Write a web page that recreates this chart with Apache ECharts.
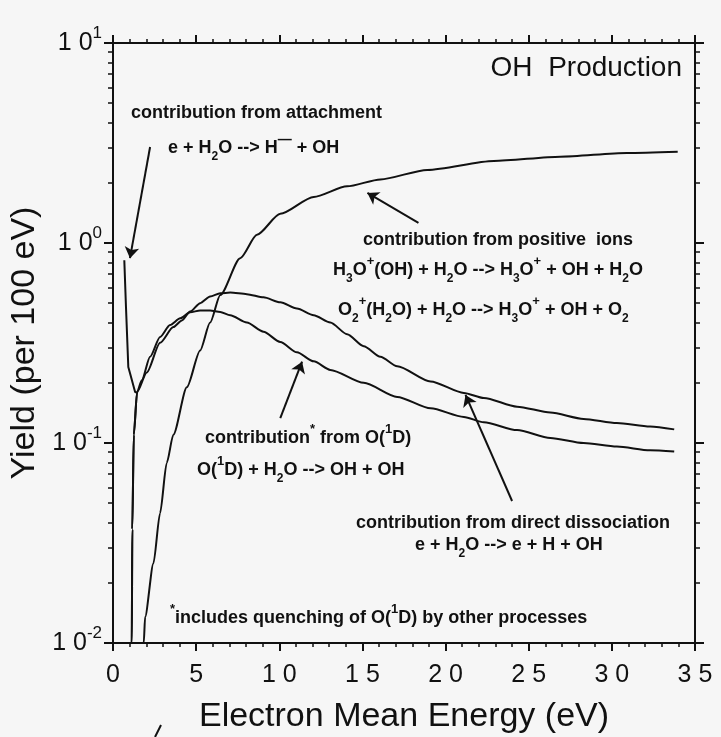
<!DOCTYPE html>
<html>
<head>
<meta charset="utf-8">
<script src="https://cdn.jsdelivr.net/npm/echarts@6/dist/echarts.min.js"></script>
<style>
html,body{margin:0;padding:0;background:#f6f6f6;}
#c{width:721px;height:737px;}
</style>
</head>
<body>
<div id="c"></div>
<script>
// ---------- data ----------
const attachE = [0.68, 0.78, 0.92, 1.02, 1.33, 1.50];
const attachY = [0.82, 0.48, 0.24, 0.224, 0.18, 0.178];

const directE = [1.10, 1.13, 1.16, 1.25, 1.45, 2.03, 2.83, 3.63, 4.14, 4.64, 5.24, 5.84, 6.45, 7.05, 8.05, 9.05, 10.06, 11.06, 12.07, 13.07, 14.08, 15.08, 16.08, 17.09, 19.1, 21.1, 22.3, 24.3, 26.3, 28.3, 30.3, 32.3, 33.75];
const directY = [0.006, 0.01, 0.037, 0.11, 0.18, 0.225, 0.317, 0.38, 0.41, 0.454, 0.50, 0.54, 0.56, 0.565, 0.555, 0.535, 0.505, 0.47, 0.435, 0.40, 0.35, 0.305, 0.27, 0.242, 0.203, 0.178, 0.168, 0.152, 0.142, 0.132, 0.126, 0.121, 0.117];

const o1dE = [1.10, 1.13, 1.16, 1.25, 1.45, 1.73, 2.23, 2.83, 3.43, 4.04, 4.64, 5.24, 5.84, 6.45, 7.05, 8.05, 9.05, 10.06, 11.06, 12.07, 13.07, 15.08, 17.09, 19.1, 21.1, 22.3, 24.3, 26.3, 28.3, 30.3, 32.3, 33.75];
const o1dY = [0.006, 0.01, 0.037, 0.11, 0.18, 0.206, 0.27, 0.339, 0.389, 0.42, 0.45, 0.46, 0.46, 0.452, 0.435, 0.40, 0.36, 0.32, 0.284, 0.256, 0.232, 0.20, 0.17, 0.149, 0.135, 0.127, 0.116, 0.106, 0.100, 0.096, 0.092, 0.0906];

const ionsE = [1.80, 1.85, 1.93, 2.43, 2.83, 3.23, 3.63, 4.44, 5.24, 5.84, 6.45, 7.65, 8.66, 10.06, 12.07, 14.08, 16.08, 18.9, 22.9, 26.9, 30.9, 33.96];
const ionsY = [0.006, 0.01, 0.0135, 0.025, 0.0446, 0.0795, 0.11, 0.19, 0.29, 0.40, 0.55, 0.84, 1.10, 1.40, 1.70, 1.92, 2.08, 2.32, 2.57, 2.70, 2.82, 2.86];

// arrows: tail -> tip (data coordinates)
const arrowTails = [[2.23, 3.02], [18.37, 1.26], [10.06, 0.133], [24.0, 0.0513]];
const arrowTips  = [[1.02, 0.84], [15.3, 1.78], [11.37, 0.255], [21.2, 0.174]];

const xTicks = [0, 5, 10, 15, 20, 25, 30, 35];
const yMinorTicks = [0.02,0.03,0.04,0.05,0.06,0.07,0.08,0.09,0.2,0.3,0.4,0.5,0.6,0.7,0.8,0.9,2,3,4,5,6,7,8,9];

const annotations = [
  {t: 'contribution from attachment', x: 131, y: 113, a: 'left'},
  {t: 'e + H{sb|2}O --> H{dh|—} + OH', x: 168, y: 148, a: 'left'},
  {t: 'contribution from positive  ions', x: 363, y: 240, a: 'left'},
  {t: 'H{sb|3}O{sp|+}(OH) + H{sb|2}O --> H{sb|3}O{sp|+} + OH + H{sb|2}O', x: 333, y: 270, a: 'left'},
  {t: 'O{sb|2}{sp|+}(H{sb|2}O) + H{sb|2}O --> H{sb|3}O{sp|+} + OH + O{sb|2}', x: 338, y: 310, a: 'left'},
  {t: 'contribution{sp|*} from O({sp|1}D)', x: 205, y: 438, a: 'left'},
  {t: 'O({sp|1}D) + H{sb|2}O --> OH + OH', x: 197, y: 470, a: 'left'},
  {t: 'contribution from direct dissociation', x: 356, y: 523, a: 'left'},
  {t: 'e + H{sb|2}O --> e + H + OH', x: 415, y: 545, a: 'left'},
  {t: '{sp|*}includes quenching of O({sp|1}D) by other processes', x: 170, y: 618, a: 'left'}
];
const panelTitle = 'OH  Production';

// ---------- chart ----------
const F = '"Liberation Sans", Arial, Helvetica, sans-serif';
const INK = '#111';
const pairs = (xs, ys) => xs.map((x, i) => [x, ys[i]]);

const annRich = {
  sb: {fontSize: 12, fontWeight: 'bold', fontFamily: F, lineHeight: 9, verticalAlign: 'bottom', fill: INK},
  sp: {fontSize: 13, fontWeight: 'bold', fontFamily: F, lineHeight: 22, verticalAlign: 'top', fill: INK},
  dh: {fontSize: 14, fontWeight: 'bold', fontFamily: F, lineHeight: 16, verticalAlign: 'top', fill: INK}
};

const graphics = annotations.map(a => ({
  type: 'text', x: a.x, y: a.y, silent: true,
  style: {
    text: a.t, rich: annRich,
    fontSize: 18, fontWeight: 'bold', fontFamily: F, lineHeight: 30,
    fill: INK, align: a.a, textAlign: a.a, verticalAlign: 'middle', textVerticalAlign: 'middle'
  }
}));
graphics.push({
  type: 'text', x: 682, y: 68, silent: true,
  style: {text: panelTitle, fontSize: 28, fontFamily: F, fill: INK,
    align: 'right', textAlign: 'right', verticalAlign: 'middle', textVerticalAlign: 'middle'}
});
graphics.push({type: 'line', silent: true, shape: {x1: 155, y1: 737, x2: 161, y2: 725}, style: {stroke: INK, lineWidth: 2}});

const lineSeries = (name, xs, ys, extra) => Object.assign({
  name, type: 'line', data: pairs(xs, ys), xAxisIndex: 0, yAxisIndex: 0,
  showSymbol: false, symbol: 'none', smooth: 0.25, smoothMonotone: 'x', clip: true,
  lineStyle: {color: INK, width: 2}, itemStyle: {color: INK}, silent: true
}, extra || {});

const xBase = (pos, showLabel) => ({
  type: 'value', position: pos, min: 0, max: 35, interval: 5, gridIndex: 0,
  axisLine: {show: true, onZero: false, lineStyle: {color: INK, width: 2}},
  axisTick: {show: true, inside: false, length: 8, lineStyle: {color: INK, width: 2}},
  minorTick: {show: true, splitNumber: 5, length: 4, lineStyle: {color: INK, width: 1.5}},
  splitLine: {show: false}, minorSplitLine: {show: false},
  axisLabel: {show: showLabel, margin: 20, fontSize: 25, fontFamily: F, color: INK,
    showMinLabel: true, showMaxLabel: true,
    formatter: v => String(v).split('').join(' ')}
});

const yMajor = (pos, showLabel) => ({
  type: 'log', logBase: 10, position: pos, min: 0.01, max: 10, gridIndex: 0,
  axisLine: {show: true, onZero: false, lineStyle: {color: INK, width: 2}},
  axisTick: {show: true, inside: false, length: 9, lineStyle: {color: INK, width: 2}},
  splitLine: {show: false},
  axisLabel: {show: showLabel, margin: 11, fontFamily: F, color: INK,
    formatter: v => '{b|1 0}{s|' + Math.round(Math.log10(v)) + '}',
    rich: {
      b: {fontSize: 25, lineHeight: 36, fontFamily: F, color: INK},
      s: {fontSize: 17, lineHeight: 14, verticalAlign: 'top', fontFamily: F, color: INK}
    }}
});
const yMinor = (pos) => ({
  type: 'log', logBase: 10, position: pos, min: 0.01, max: 10, gridIndex: 0,
  axisLine: {show: false, onZero: false},
  axisTick: {show: true, inside: false, length: 5, customValues: yMinorTicks, lineStyle: {color: INK, width: 1.5}},
  splitLine: {show: false},
  axisLabel: {show: false}
});

const yAxes = [yMajor('left', true), yMinor('left'), yMajor('right', false), yMinor('right')];
yAxes[0].name = 'Yield (per 100 eV)';
yAxes[0].nameLocation = 'middle';
yAxes[0].nameGap = 71;
yAxes[0].nameMoveOverlap = false;
yAxes[0].nameTextStyle = {fontSize: 34, fontFamily: F, color: INK};

const xAxes = [xBase('bottom', true), xBase('top', false)];
xAxes[0].name = 'Electron Mean Energy (eV)';
xAxes[0].nameLocation = 'middle';
xAxes[0].nameGap = 57;
xAxes[0].nameMoveOverlap = false;
xAxes[0].nameTextStyle = {fontSize: 34, fontFamily: F, color: INK};

const arrowLines = arrowTails.map((t, i) => [{coord: t}, {coord: arrowTips[i]}]);

const option = {
  backgroundColor: '#f6f6f6',
  animation: false,
  grid: {left: 113, right: 26, top: 43, bottom: 94, containLabel: false, outerBoundsMode: 'none'},
  xAxis: xAxes,
  yAxis: yAxes,
  series: [
    lineSeries('attachment', attachE, attachY, {
      smooth: false,
      markLine: {
        silent: true, symbol: ['none', 'arrow'], symbolSize: 11, precision: 4,
        lineStyle: {color: INK, width: 2, type: 'solid'},
        itemStyle: {color: INK},
        label: {show: false}, emphasis: {disabled: true},
        data: arrowLines
      }
    }),
    lineSeries('direct dissociation', directE, directY),
    lineSeries('O(1D)', o1dE, o1dY),
    lineSeries('positive ions', ionsE, ionsY)
  ],
  graphic: graphics
};

const chart = echarts.init(document.getElementById('c'), null, {renderer: 'canvas'});
chart.setOption(option);
</script>
</body>
</html>
